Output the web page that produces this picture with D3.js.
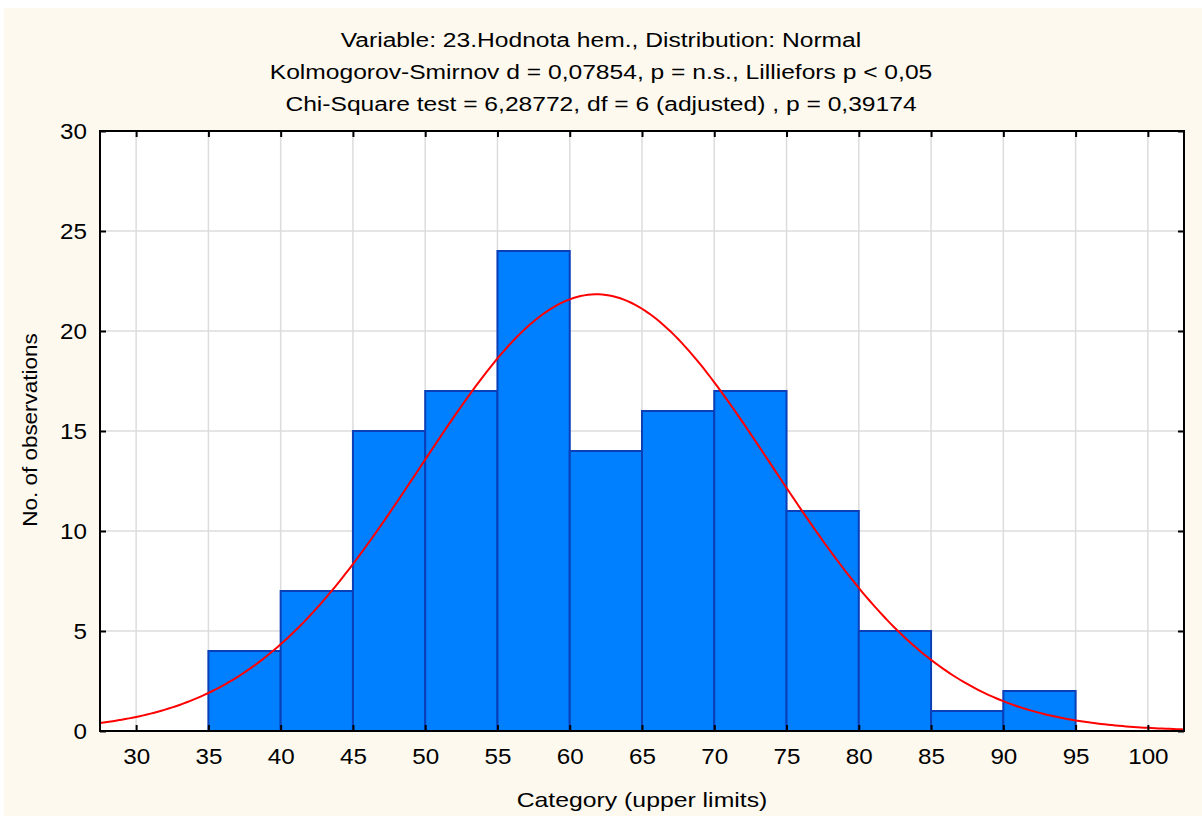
<!DOCTYPE html>
<html>
<head>
<meta charset="utf-8">
<script src="https://cdn.jsdelivr.net/npm/d3@7"></script>
<style>
  body { margin: 0; background: #fff; }
  text { font-family: 'Liberation Sans', Arial, sans-serif; fill: #000; }
</style>
</head>
<body>
<svg id="chart" width="1202" height="816"></svg>
<script>
// histogram bins (upper limits) and counts
var binStarts = [35, 40, 45, 50, 55, 60, 65, 70, 75, 80, 85, 90];
var counts = [4, 7, 15, 17, 24, 14, 16, 17, 11, 5, 1, 2];
var binWidth = 5;
var xTicks = [30, 35, 40, 45, 50, 55, 60, 65, 70, 75, 80, 85, 90, 95, 100];
var yTicks = [0, 5, 10, 15, 20, 25, 30];
// fitted normal
var fitMean = 61.85;
var fitSd = 12.15;
var nObs = 133;
var titleLines = [
  'Variable: 23.Hodnota hem., Distribution: Normal',
  'Kolmogorov-Smirnov d = 0,07854, p = n.s., Lilliefors p < 0,05',
  'Chi-Square test = 6,28772, df = 6 (adjusted) , p = 0,39174'
];

var svg = d3.select('#chart');
var box = { left: 100, right: 1184, top: 131, bottom: 731 };

// the original text is drawn wider than Arial metrics
function stretch(sel, k) {
  sel.each(function () {
    var w = this.getComputedTextLength();
    d3.select(this)
      .attr('textLength', w * k)
      .attr('lengthAdjust', 'spacingAndGlyphs');
  });
}

svg.append('rect')
  .attr('x', 4).attr('y', 8)
  .attr('width', 1198).attr('height', 808)
  .attr('fill', '#fdf9ef');

svg.append('rect')
  .attr('x', box.left).attr('y', box.top)
  .attr('width', box.right - box.left).attr('height', box.bottom - box.top)
  .attr('fill', '#fff');

var x = d3.scaleLinear().domain([27.5, 102.5]).range([box.left, box.right]);
var y = d3.scaleLinear().domain([0, 30]).range([box.bottom, box.top]);

// grid
svg.append('g').selectAll('line')
  .data(xTicks)
  .enter().append('line')
  .attr('x1', function (d) { return x(d); })
  .attr('x2', function (d) { return x(d); })
  .attr('y1', box.top).attr('y2', box.bottom)
  .attr('stroke', '#dcdcdc').attr('stroke-width', 1.5);

svg.append('g').selectAll('line')
  .data(yTicks)
  .enter().append('line')
  .attr('y1', function (d) { return y(d); })
  .attr('y2', function (d) { return y(d); })
  .attr('x1', box.left).attr('x2', box.right)
  .attr('stroke', '#dcdcdc').attr('stroke-width', 1.5);

// bars
svg.append('g').selectAll('rect')
  .data(binStarts)
  .enter().append('rect')
  .attr('x', function (d) { return x(d); })
  .attr('width', function (d) { return x(d + binWidth) - x(d); })
  .attr('y', function (d, i) { return y(counts[i]); })
  .attr('height', function (d, i) { return y(0) - y(counts[i]); })
  .attr('fill', '#0080ff')
  .attr('stroke', '#0a3fb8')
  .attr('stroke-width', 2);

// normal curve
var xs = d3.range(0, 301).map(function (i) { return 27.5 + i * 0.25; });
var line = d3.line()
  .x(function (d) { return x(d); })
  .y(function (d) {
    var z = (d - fitMean) / fitSd;
    return y(nObs * binWidth * Math.exp(-0.5 * z * z) / (fitSd * Math.sqrt(2 * Math.PI)));
  });

svg.append('path')
  .datum(xs)
  .attr('d', line)
  .attr('fill', 'none')
  .attr('stroke', '#ff0000')
  .attr('stroke-width', 2);

// frame
svg.append('rect')
  .attr('x', box.left).attr('y', box.top)
  .attr('width', box.right - box.left).attr('height', box.bottom - box.top)
  .attr('fill', 'none')
  .attr('stroke', '#000').attr('stroke-width', 2);

// axes with inward ticks
var tickLen = 6;
svg.append('g')
  .attr('transform', 'translate(0,' + box.bottom + ')')
  .call(d3.axisBottom(x).tickValues(xTicks).tickSizeInner(-tickLen).tickSizeOuter(0).tickPadding(17))
  .call(function (g) { g.select('.domain').remove(); });
svg.append('g')
  .attr('transform', 'translate(0,' + box.top + ')')
  .call(d3.axisTop(x).tickValues(xTicks).tickSizeInner(-tickLen).tickSizeOuter(0).tickFormat(''))
  .call(function (g) { g.select('.domain').remove(); });
svg.append('g')
  .attr('transform', 'translate(' + box.left + ',0)')
  .call(d3.axisLeft(y).tickValues(yTicks).tickSizeInner(-tickLen).tickSizeOuter(0).tickPadding(13))
  .call(function (g) { g.select('.domain').remove(); });
svg.append('g')
  .attr('transform', 'translate(' + box.right + ',0)')
  .call(d3.axisRight(y).tickValues(yTicks).tickSizeInner(-tickLen).tickSizeOuter(0).tickFormat(''))
  .call(function (g) { g.select('.domain').remove(); });

svg.selectAll('.tick line').attr('stroke', '#000').attr('stroke-width', 2);
svg.selectAll('.tick text')
  .style('font-family', "'Liberation Sans', Arial, sans-serif")
  .style('font-size', '22px')
  .attr('fill', '#000')
  .call(stretch, 1.1);

// titles
svg.append('g').selectAll('text')
  .data(titleLines)
  .enter().append('text')
  .attr('x', 601)
  .attr('y', function (d, i) { return 47 + i * 32; })
  .attr('text-anchor', 'middle')
  .style('font-size', '20px')
  .text(function (d) { return d; })
  .call(stretch, 1.23);

svg.append('text')
  .attr('x', 642)
  .attr('y', 807)
  .attr('text-anchor', 'middle')
  .style('font-size', '21px')
  .text('Category (upper limits)')
  .call(stretch, 1.18);

svg.append('text')
  .attr('transform', 'rotate(-90)')
  .attr('x', -430)
  .attr('y', 37)
  .attr('text-anchor', 'middle')
  .style('font-size', '21px')
  .text('No. of observations')
  .call(stretch, 1.07);
</script>
</body>
</html>
